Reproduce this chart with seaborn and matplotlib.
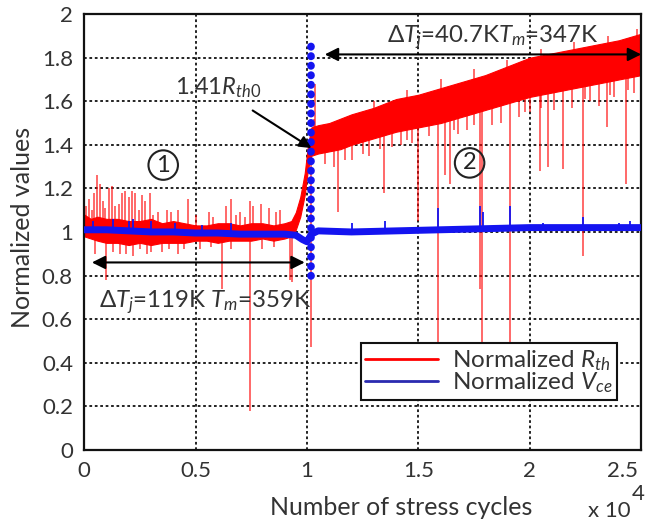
import numpy as np
import matplotlib
matplotlib.use("Agg")
import matplotlib.pyplot as plt
import matplotlib.transforms as mtransforms
from matplotlib.lines import Line2D
import seaborn as sns

# stress cycles in units of 10^4
rth_x = [0.00, 0.03, 0.06, 0.10, 0.15, 0.20, 0.25, 0.30, 0.35, 0.40, 0.45, 0.50,
         0.55, 0.60, 0.65, 0.70, 0.75, 0.80, 0.85, 0.90, 0.93, 0.95, 0.97, 0.99,
         1.005, 1.02, 1.05, 1.10, 1.15, 1.20, 1.30, 1.40, 1.50, 1.60, 1.70, 1.80,
         1.90, 2.00, 2.10, 2.20, 2.30, 2.40, 2.50]
rth_hi = [1.08, 1.06, 1.07, 1.06, 1.06, 1.05, 1.05, 1.06, 1.04, 1.05, 1.04, 1.03,
          1.03, 1.04, 1.04, 1.03, 1.04, 1.04, 1.03, 1.04, 1.05, 1.09, 1.16, 1.27,
          1.40, 1.48, 1.49, 1.50, 1.52, 1.54, 1.57, 1.61, 1.63, 1.66, 1.69, 1.72,
          1.76, 1.80, 1.82, 1.84, 1.86, 1.88, 1.91]
rth_lo = [0.98, 0.97, 0.96, 0.95, 0.95, 0.94, 0.95, 0.94, 0.95, 0.95, 0.95, 0.96,
          0.96, 0.95, 0.96, 0.96, 0.96, 0.97, 0.96, 0.97, 0.98, 1.01, 1.07, 1.17,
          1.29, 1.35, 1.36, 1.37, 1.38, 1.40, 1.43, 1.46, 1.48, 1.50, 1.53, 1.56,
          1.59, 1.62, 1.64, 1.66, 1.68, 1.70, 1.72]

# spike tips of the Rth trace
rth_spike_x = [0.02, 0.045, 0.058, 0.07, 0.085, 0.11, 0.125, 0.14, 0.17, 0.185,
               0.20, 0.215, 0.23, 0.26, 0.275, 0.295, 0.33, 0.37, 0.42, 0.465,
               0.50, 0.56, 0.635, 0.66, 0.70, 0.745, 0.76, 0.795, 0.83, 0.86, 0.88,
               0.01, 0.035, 0.095, 0.155, 0.245, 0.31, 0.39, 0.58, 0.68, 0.72,
               0.10, 0.05, 0.16, 0.22, 0.28, 0.35, 0.42, 0.52, 0.62, 0.745, 0.80,
               0.925, 0.935, 0.13, 0.19, 0.25, 0.30, 0.38, 0.45, 0.57, 0.66, 0.85,
               1.02, 1.035,
               1.14, 1.345, 1.50, 1.59, 1.62, 1.64, 1.775, 1.785, 1.91, 2.045,
               2.08, 2.15, 2.24, 2.345, 2.43,
               1.08, 1.12, 1.20, 1.25, 1.28, 1.42, 1.47, 1.55, 1.68, 1.72, 1.83,
               1.87, 1.95, 2.00, 2.11, 2.19, 2.27, 2.31, 2.38, 2.47,
               1.17, 1.33, 1.38, 1.45, 1.66, 1.75, 1.98, 2.05, 2.25, 2.36, 2.44,
               1.03, 1.30, 1.60, 1.90, 2.20, 2.48, 1.45, 1.75, 2.05, 2.35]
rth_spike_y = [1.15, 1.18, 1.26, 1.22, 1.14, 1.20, 1.21, 1.12, 1.18, 1.19,
               1.16, 1.19, 1.18, 1.17, 1.14, 1.18, 1.09, 1.10, 1.10, 1.15,
               1.08, 1.09, 1.12, 1.15, 1.09, 1.14, 1.12, 1.13, 1.11, 1.09, 1.10,
               1.12, 1.10, 1.11, 1.13, 1.10, 1.08, 1.09, 1.07, 1.08, 1.07,
               0.78, 0.90, 0.90, 0.89, 0.90, 0.91, 0.90, 0.92, 0.74, 0.18, 0.92,
               0.78, 0.77, 0.91, 0.90, 0.92, 0.91, 0.92, 0.92, 0.93, 0.92, 0.93,
               0.47, 1.68,
               1.09, 1.18, 1.05, 0.45, 1.26, 1.22, 0.74, 0.45, 0.45, 1.28,
               1.30, 1.29, 0.89, 1.48, 1.22,
               1.31, 1.30, 1.33, 1.36, 1.35, 1.40, 1.41, 1.44, 1.45, 1.47, 1.49,
               1.50, 1.53, 1.55, 1.56, 1.57, 1.60, 1.58, 1.62, 1.64,
               1.33, 1.38, 1.39, 1.42, 1.47, 1.49, 1.55, 1.57, 1.61, 1.63, 1.65,
               1.52, 1.60, 1.70, 1.79, 1.87, 1.93, 1.65, 1.75, 1.84, 1.90]

vce_x = [0.00, 0.10, 0.20, 0.30, 0.40, 0.50, 0.60, 0.70, 0.80, 0.90, 0.95, 0.98,
         1.00, 1.02, 1.05, 1.20, 1.40, 1.60, 1.80, 2.00, 2.20, 2.40, 2.50]
vce_y = [1.01, 1.01, 1.005, 1.00, 1.00, 0.995, 0.995, 0.99, 0.99, 0.99, 0.985,
         0.965, 0.955, 0.99, 1.005, 1.00, 1.005, 1.01, 1.015, 1.02, 1.02, 1.02, 1.02]
vce_spike_x = [0.04, 0.13, 0.20, 0.22, 0.30, 0.41, 0.53, 0.66,
               1.20, 1.35, 1.59, 1.775, 1.79, 1.91, 2.06, 2.24, 2.40, 2.45]
vce_spike_y = [1.05, 1.06, 1.05, 1.06, 1.05, 1.04, 1.03, 1.04,
               1.04, 1.05, 1.11, 1.12, 1.09, 1.12, 1.04, 1.07, 1.04, 1.05]
vce_jump_x = [1.02, 1.02]
vce_jump_y = [0.80, 1.88]

x_ticks = [0, 0.5, 1, 1.5, 2, 2.5]
x_tick_labels = ["0", "0.5", "1", "1.5", "2", "2.5"]
y_ticks = [0, 0.2, 0.4, 0.6, 0.8, 1, 1.2, 1.4, 1.6, 1.8, 2]
y_tick_labels = ["0", "0.2", "0.4", "0.6", "0.8", "1", "1.2", "1.4", "1.6", "1.8", "2"]

RED = "#ff0000"
BLUE = "#1414f0"
TXT = "#333333"

sns.set_style("white")
plt.rcParams["font.family"] = ["Lato", "DejaVu Sans"]
plt.rcParams["mathtext.fontset"] = "custom"
plt.rcParams["mathtext.rm"] = "Lato"
plt.rcParams["mathtext.it"] = "Lato:italic"

fig = plt.figure(figsize=(6.47, 5.23), dpi=100)
ax = fig.add_axes([0.130, 0.140, 0.861, 0.833])

rx = np.array(rth_x)
mid = (np.array(rth_hi) + np.array(rth_lo)) / 2
ax.fill_between(rx, rth_lo, rth_hi, color=RED, lw=0.8, zorder=2)
base = np.interp(rth_spike_x, rx, mid)
ax.vlines(rth_spike_x, base, rth_spike_y, color=RED, lw=1.1, alpha=0.75, zorder=2)

sns.lineplot(x=vce_x, y=vce_y, ax=ax, color=BLUE, lw=5, zorder=3)
vbase = np.interp(vce_spike_x, vce_x, vce_y)
ax.vlines(vce_spike_x, vbase, vce_spike_y, color=BLUE, lw=1.3, zorder=3)
ax.plot(vce_jump_x, vce_jump_y, color=BLUE, lw=5.5, linestyle=(0, (0.05, 1.2)),
        dash_capstyle="round", zorder=4)

ax.set_xlim(0, 2.5)
ax.set_ylim(0, 2)
ax.set_xticks(x_ticks, labels=x_tick_labels)
ax.set_yticks(y_ticks, labels=y_tick_labels)
ax.grid(True, color="#111111", linestyle=(0, (1.5, 1.5)), lw=1.3)
ax.set_axisbelow(True)
for s in ax.spines.values():
    s.set_color("#111111")
    s.set_linewidth(1.6)
ax.tick_params(direction="in", length=4, width=1, labelsize=16, pad=8,
               colors="#111111", labelcolor=TXT)
last = ax.xaxis.get_major_ticks()[-1].label1
last.set_horizontalalignment("right")
last.set_transform(last.get_transform() +
                   mtransforms.ScaledTranslation(-2 / 72, 0, fig.dpi_scale_trans))

ax.set_xlabel("Number of stress cycles", fontsize=18, color=TXT)
ax.xaxis.set_label_coords(0.57, -0.105)
ax.set_ylabel("Normalized values", fontsize=18, color=TXT)
ax.yaxis.set_label_coords(-0.09, 0.51)
ax.text(0.905, -0.14, "x 10", transform=ax.transAxes, fontsize=16, color=TXT,
        ha="left", va="center")
ax.text(0.984, -0.102, "4", transform=ax.transAxes, fontsize=16, color=TXT,
        ha="left", va="center")

# annotations
ax.annotate("", xy=(0.99, 0.86), xytext=(0.035, 0.86),
            arrowprops=dict(arrowstyle="<|-|>", color="black", lw=1.5,
                            mutation_scale=20, shrinkA=0, shrinkB=0), zorder=5)
ax.text(0.545, 0.68, r"$\Delta T_j$=119K $T_m$=359K", fontsize=17.3,
        color=TXT, ha="center", va="center", zorder=5)
ax.annotate("", xy=(2.5, 1.815), xytext=(1.08, 1.815),
            arrowprops=dict(arrowstyle="<|-|>", color="black", lw=1.5,
                            mutation_scale=20, shrinkA=0, shrinkB=0), zorder=5)
ax.text(1.835, 1.895, r"$\Delta T_j$=40.7K$T_m$=347K", fontsize=17.3,
        color=TXT, ha="center", va="center", zorder=5)
ax.annotate(r"1.41$R_{th0}$", xy=(1.02, 1.385), xytext=(0.60, 1.66),
            fontsize=17, color=TXT, ha="center", va="center",
            arrowprops=dict(arrowstyle="-|>", color="black", lw=1.5,
                            mutation_scale=18, shrinkA=9, shrinkB=0), zorder=5)
for lbl, xx, yy in [("1", 0.355, 1.307), ("2", 1.73, 1.317)]:
    ax.text(xx, yy, lbl, fontsize=17, color="#222222", ha="center", va="center",
            bbox=dict(boxstyle="circle,pad=0.18", fc="none", ec="#222222", lw=1.5),
            zorder=5)

handles = [Line2D([], [], color=RED, lw=2), Line2D([], [], color="#2a2ab0", lw=2)]
leg = ax.legend(handles, [r"Normalized $R_{th}$", r"Normalized $V_{ce}$"],
                loc="lower right", bbox_to_anchor=(0.957, 0.115), borderaxespad=0,
                fontsize=17.5, frameon=True, fancybox=False, framealpha=1,
                edgecolor="#111111", handlelength=3.0, labelspacing=-0.1,
                borderpad=0.2, handletextpad=0.55)
leg.get_frame().set_linewidth(1.5)
leg.set_zorder(10)
for t in leg.get_texts():
    t.set_color(TXT)

fig.savefig("out.png", dpi=100)
